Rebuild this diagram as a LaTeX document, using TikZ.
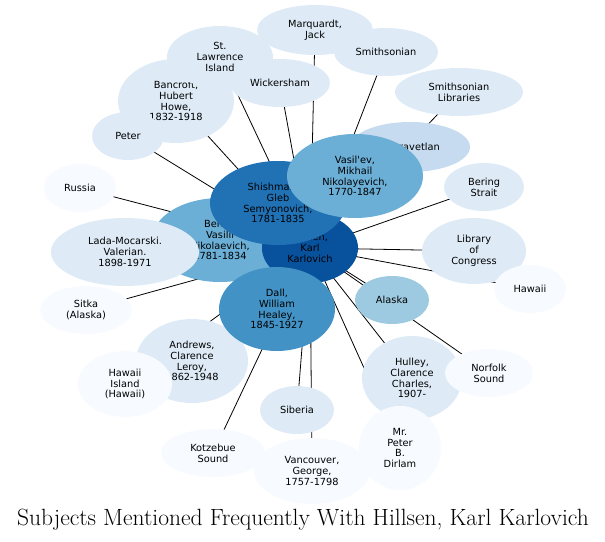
\documentclass[tikz,border=0pt]{standalone}
\usepackage{fontspec}
\newfontfamily\labelfont{DejaVu Sans}
\usetikzlibrary{positioning,shapes.geometric}
\definecolor{c0}{HTML}{F7FBFF}
\definecolor{c1}{HTML}{DEEBF7}
\definecolor{c2}{HTML}{C6DBEF}
\definecolor{c3}{HTML}{9ECAE1}
\definecolor{c4}{HTML}{6BAED6}
\definecolor{c5}{HTML}{4292C6}
\definecolor{c6}{HTML}{2171B5}
\definecolor{c7}{HTML}{08519C}
\tikzset{
    subject/.style = {
        shape=ellipse,
        inner sep=0pt,
        align=center,
        font=\labelfont\fontsize{9.8}{10.8}\selectfont
    },
    link/.style = {
        draw,
        line width=0.8pt
    },
}
\newcommand{\subj}[6]{\node[subject, fill=#6, minimum width=#4*2pt, minimum height=#5*2pt] (#1) at (#2,#3)}
\begin{document}
\begin{tikzpicture}[x=1pt,y=-1pt]
            \useasboundingbox (0,0) rectangle (605,541);
            \coordinate (hub) at (310,248);

            % outer subjects, edges first
            \foreach \name/\px/\py in {marq/315/30, smith/386/52, stl/220/57, banc/176/101, wick/280/83,
                smlib/459/92, peter/128/136, uvor/410/147, russia/80/188, vasil/355/176, bering/484/187,
                shish/278/203, berkh/220/240, lada/125/252, loc/474/251, hawaii/530/289, sitka/86/310,
                alaska/392/300, dall/277/309, andr/192/361, hisl/125/384, hull/412/378, norf/489/373,
                sib/297/410, kotz/213/453, vanc/312/471, dirl/400/448}
            {
                \path[link] (hub) -- (\px,\py);
            }

            \subj{marq}{315}{30}{58}{25}{c1} {Marquardt,\\Jack};
            \subj{smith}{386}{52}{52}{24}{c1} {Smithsonian};
            \subj{banc}{176}{101}{58}{42}{c1} {Bancroft,\\Hubert\\Howe,\\1832-1918};
            \subj{stl}{220}{57}{53}{31}{c1} {St.\\Lawrence\\Island};
            \subj{wick}{280}{83}{50}{24}{c1} {Wickersham};
            \subj{smlib}{459}{92}{64}{24}{c1} {Smithsonian\\Libraries};
            \subj{peter}{128}{136}{36}{24}{c1} {Peter};
            \subj{uvor}{410}{147}{60}{25}{c2} {Uvoravetlan};
            \subj{russia}{80}{188}{36}{24}{c0} {Russia};
            \subj{bering}{484}{187}{40}{24}{c1} {Bering\\Strait};
            \subj{berkh}{220}{240}{68}{42}{c4} {Berkh,\\Vasilii\\Nikolaevich,\\1781-1834};
            \subj{lada}{125}{252}{74}{34}{c1} {Lada-Mocarski.\\Valerian.\\1898-1971};
            \subj{loc}{474}{251}{52}{33}{c1} {Library\\of\\Congress};
            \subj{hawaii}{530}{289}{36}{24}{c0} {Hawaii};
            \subj{sitka}{86}{310}{46}{24}{c0} {Sitka\\(Alaska)};
            \subj{alaska}{392}{300}{37}{24}{c3} {Alaska};
            \subj{andr}{192}{361}{56}{42}{c1} {Andrews,\\Clarence\\Leroy,\\1862-1948};
            \subj{hisl}{125}{384}{47}{33}{c0} {Hawaii\\Island\\(Hawaii)};
            \subj{hull}{412}{378}{50}{42}{c1} {Hulley,\\Clarence\\Charles,\\1907-};
            \subj{norf}{489}{373}{44}{24}{c0} {Norfolk\\Sound};
            \subj{sib}{297}{410}{37}{24}{c1} {Siberia};
            \subj{kotz}{213}{453}{52}{24}{c0} {Kotzebue\\Sound};
            \subj{vanc}{312}{471}{58}{33}{c0} {Vancouver,\\George,\\1757-1798};
            \subj{dirl}{400}{448}{41}{42}{c0} {Mr.\\Peter\\B.\\Dirlam};

            % central cluster
            \subj{center}{310}{248}{48}{35}{c7} {Hillsen,\\Karl\\Karlovich};
            \subj{shish}{278}{203}{68}{42}{c6} {Shishmarev,\\Gleb\\Semyonovich,\\1781-1835};
            \subj{vasil}{355}{176}{68}{42}{c4} {Vasil'ev,\\Mikhail\\Nikolayevich,\\1770-1847};
            \subj{dall}{277}{309}{58}{42}{c5} {Dall,\\William\\Healey,\\1845-1927};

            \node[font=\fontsize{23.5}{26}\selectfont] (title) at (303,520) {Subjects Mentioned Frequently With Hillsen, Karl Karlovich};
\end{tikzpicture}
\end{document}
